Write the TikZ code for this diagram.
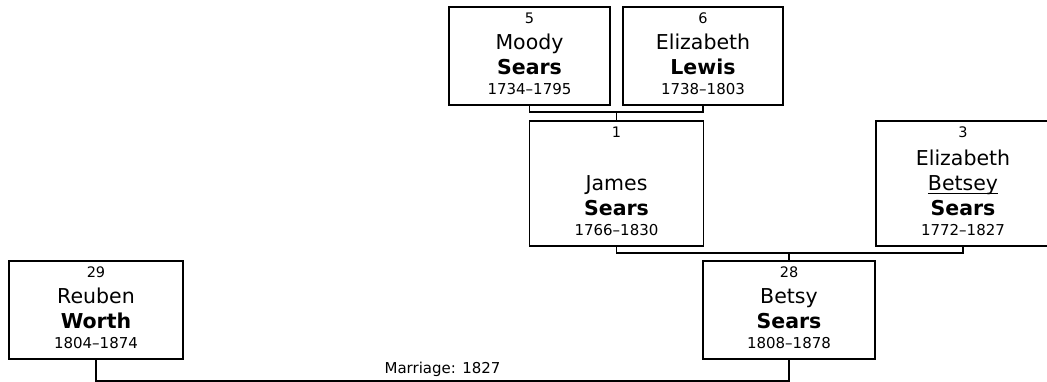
\documentclass[tikz,border=0pt]{standalone}
\usepackage{fontspec}
\setmainfont{DejaVu Sans}
\usetikzlibrary{positioning}
\tikzset{
  pbox/.style={draw=black, line width=1.9pt, rectangle, inner sep=0pt},
  numlab/.style={font=\fontsize{14.5}{16}\selectfont, inner sep=0pt, anchor=base},
  namelab/.style={align=center, inner sep=0pt, font=\fontsize{20.5}{25}\selectfont},
  link/.style={line width=1.9pt, draw=black},
  marr/.style={font=\fontsize{15}{16}\selectfont, inner sep=0pt, above=3pt}
}
\newcommand{\yrs}[1]{\\[-5pt]{\fontsize{15}{16}\selectfont #1}}
\newcommand{\callname}[1]{\setbox0\hbox{#1}\rlap{\rule[-3.5pt]{\wd0}{1.2pt}}\box0}

\begin{document}
\begin{tikzpicture}[x=1pt, y=-1pt]
  \useasboundingbox (0,0) rectangle (1047,381);
  \clip (0,0) rectangle (1047,381);

  % person boxes
  \node[pbox, minimum width=161pt, minimum height=98pt] (moody) at (529.5,56) {};
  \node[pbox, minimum width=160pt, minimum height=98pt] (lewis) at (703,56) {};
  \node[pbox, minimum width=174pt, minimum height=125pt] (james) at (616.5,183.5) {};
  \node[pbox, minimum width=174pt, minimum height=125pt] (betsey) at (963,183.5) {};
  \node[pbox, minimum width=172pt, minimum height=98pt] (betsy) at (789,310) {};
  \node[pbox, minimum width=174pt, minimum height=98pt] (reuben) at (96,310) {};

  % numbers
  \node[numlab] (moodyN) at ([yshift=-17pt]moody.north) {5};
  \node[numlab] (lewisN) at ([yshift=-17pt]lewis.north) {6};
  \node[numlab] (jamesN) at ([yshift=-17pt]james.north) {1};
  \node[numlab] (betseyN) at ([yshift=-17pt]betsey.north) {3};
  \node[numlab] (betsyN) at ([yshift=-17pt]betsy.north) {28};
  \node[numlab] (reubenN) at ([yshift=-17pt]reuben.north) {29};

  % names
  \node[namelab, above=11pt of moody.south] (moodyT) {Moody\\\textbf{Sears}\yrs{1734--1795}};
  \node[namelab, above=11pt of lewis.south] (lewisT) {Elizabeth\\\textbf{Lewis}\yrs{1738--1803}};
  \node[namelab, above=11pt of james.south] (jamesT) {James\\\textbf{Sears}\yrs{1766--1830}};
  \node[namelab, above=11pt of betsey.south] (betseyT) {Elizabeth\\\callname{Betsey}\\\textbf{Sears}\yrs{1772--1827}};
  \node[namelab, above=11pt of betsy.south] (betsyT) {Betsy\\\textbf{Sears}\yrs{1808--1878}};
  \node[namelab, above=11pt of reuben.south] (reubenT) {Reuben\\\textbf{Worth}\yrs{1804--1874}};

  % family links
  \coordinate (j1) at (616.5,112);
  \coordinate (j2) at (789,253);
  \draw[link] (moody.south) |- (j1) -| (lewis.south);
  \draw[link] (j1) -- (james.north);
  \draw[link] (james.south) |- (j2) -| (betsey.south);
  \draw[link] (j2) -- (betsy.north);
  \draw[link] (reuben.south) -- ++(0,21) -| node[marr, pos=0.25] (mlab) {Marriage: 1827} (betsy.south);
\end{tikzpicture}
\end{document}
